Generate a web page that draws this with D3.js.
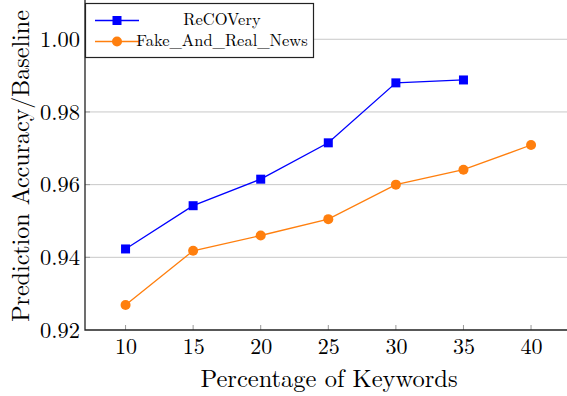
<!DOCTYPE html>
<html>
<head>
<meta charset="utf-8">
<script src="https://cdn.jsdelivr.net/npm/d3@7"></script>
<style>
  html, body { margin: 0; padding: 0; background: #fff; }
  svg { display: block; }
</style>
</head>
<body>
<svg id="chart" width="567" height="396"></svg>
<script>
// Keyword percentages on the x axis
const keywordPct = [10, 15, 20, 25, 30, 35, 40];
// Prediction accuracy relative to baseline
const recoveryValues = [0.9423, 0.9542, 0.9615, 0.9715, 0.9880, 0.9888];
const fakeRealValues = [0.9269, 0.9418, 0.9460, 0.9505, 0.9600, 0.9641, 0.9709];
const yTicks = [0.92, 0.94, 0.96, 0.98, 1.00];
const seriesNames = ["ReCOVery", "Fake_And_Real_News"];
const seriesColors = ["#0000ff", "#ff7f0e"];

const FONT = "'Latin Modern Roman', 'Liberation Serif', serif";
const svg = d3.select("#chart");
const plotLeft = 85, plotBottom = 330, plotRight = 567, plotTop = -2;

const x = d3.scaleLinear().domain([7, 42.66]).range([plotLeft, plotRight]);
const y = d3.scaleLinear().domain([0.92, 1.01135]).range([plotBottom, plotTop]);

// horizontal grid lines
svg.append("g").selectAll("line")
  .data(yTicks.slice(1))
  .join("line")
  .attr("x1", plotLeft).attr("x2", plotRight)
  .attr("y1", d => y(d)).attr("y2", d => y(d))
  .attr("stroke", "#c8c8c8").attr("stroke-width", 1);

// y axis labels
const yAxis = d3.axisLeft(y).tickValues(yTicks).tickFormat(d3.format(".2f")).tickSize(0).tickPadding(5);
const gy = svg.append("g").attr("transform", `translate(${plotLeft},0)`).call(yAxis);
gy.select(".domain").remove();
gy.selectAll("text").style("font-family", FONT).attr("font-size", 22.5).attr("fill", "#000");

// x axis labels
const xAxis = d3.axisBottom(x).tickValues(keywordPct).tickSize(0).tickPadding(8);
const gx = svg.append("g").attr("transform", `translate(0,${plotBottom})`).call(xAxis);
gx.select(".domain").remove();
gx.selectAll("text").style("font-family", FONT).attr("font-size", 22).attr("fill", "#000");

// inward tick marks
svg.append("g").selectAll("line")
  .data(keywordPct)
  .join("line")
  .attr("x1", d => x(d)).attr("x2", d => x(d))
  .attr("y1", plotBottom).attr("y2", plotBottom - 5)
  .attr("stroke", "#999").attr("stroke-width", 1);
svg.append("g").selectAll("line")
  .data(yTicks.slice(1))
  .join("line")
  .attr("x1", plotLeft).attr("x2", plotLeft + 5)
  .attr("y1", d => y(d)).attr("y2", d => y(d))
  .attr("stroke", "#999").attr("stroke-width", 1);

// axis lines (left and bottom)
svg.append("path")
  .attr("d", `M${plotLeft},0 V${plotBottom} H${plotRight}`)
  .attr("fill", "none").attr("stroke", "#222").attr("stroke-width", 1.3);

// series
const line = d3.line().x(d => x(d[0])).y(d => y(d[1]));
const recData = recoveryValues.map((v, i) => [keywordPct[i], v]);
const frData = fakeRealValues.map((v, i) => [keywordPct[i], v]);

svg.append("path").datum(recData).attr("d", line)
  .attr("fill", "none").attr("stroke", seriesColors[0]).attr("stroke-width", 1.3);
svg.append("path").datum(frData).attr("d", line)
  .attr("fill", "none").attr("stroke", seriesColors[1]).attr("stroke-width", 1.3);

svg.append("g").selectAll("rect").data(recData).join("rect")
  .attr("x", d => x(d[0]) - 4.5).attr("y", d => y(d[1]) - 4.5)
  .attr("width", 9).attr("height", 9)
  .attr("fill", seriesColors[0]);
svg.append("g").selectAll("circle").data(frData).join("circle")
  .attr("cx", d => x(d[0])).attr("cy", d => y(d[1])).attr("r", 5)
  .attr("fill", seriesColors[1]);

// axis titles
svg.append("text")
  .attr("x", 329).attr("y", 387)
  .attr("text-anchor", "middle").attr("font-size", 24.5)
  .style("font-family", FONT)
  .text("Percentage of Keywords");
svg.append("text")
  .attr("transform", `translate(29,166) rotate(-90)`)
  .attr("text-anchor", "middle").attr("font-size", 24)
  .style("font-family", FONT)
  .text("Prediction Accuracy/Baseline");

// legend
const lg = svg.append("g");
lg.append("rect")
  .attr("x", 85.5).attr("y", 3.5).attr("width", 228).attr("height", 54)
  .attr("fill", "#fff").attr("stroke", "#222").attr("stroke-width", 1.2);
const rows = [20.5, 41.5];
rows.forEach((ry, i) => {
  lg.append("line").attr("x1", 95).attr("x2", 139).attr("y1", ry).attr("y2", ry)
    .attr("stroke", seriesColors[i]).attr("stroke-width", 1.3);
  if (i === 0) {
    lg.append("rect").attr("x", 117 - 4.5).attr("y", ry - 4.5).attr("width", 9).attr("height", 9)
      .attr("fill", seriesColors[i]);
  } else {
    lg.append("circle").attr("cx", 117).attr("cy", ry).attr("r", 5).attr("fill", seriesColors[i]);
  }
  lg.append("text").attr("x", 222).attr("y", ry + 4.5)
    .attr("text-anchor", "middle").attr("font-size", 16.5)
    .style("font-family", FONT)
    .text(seriesNames[i]);
});
</script>
</body>
</html>
